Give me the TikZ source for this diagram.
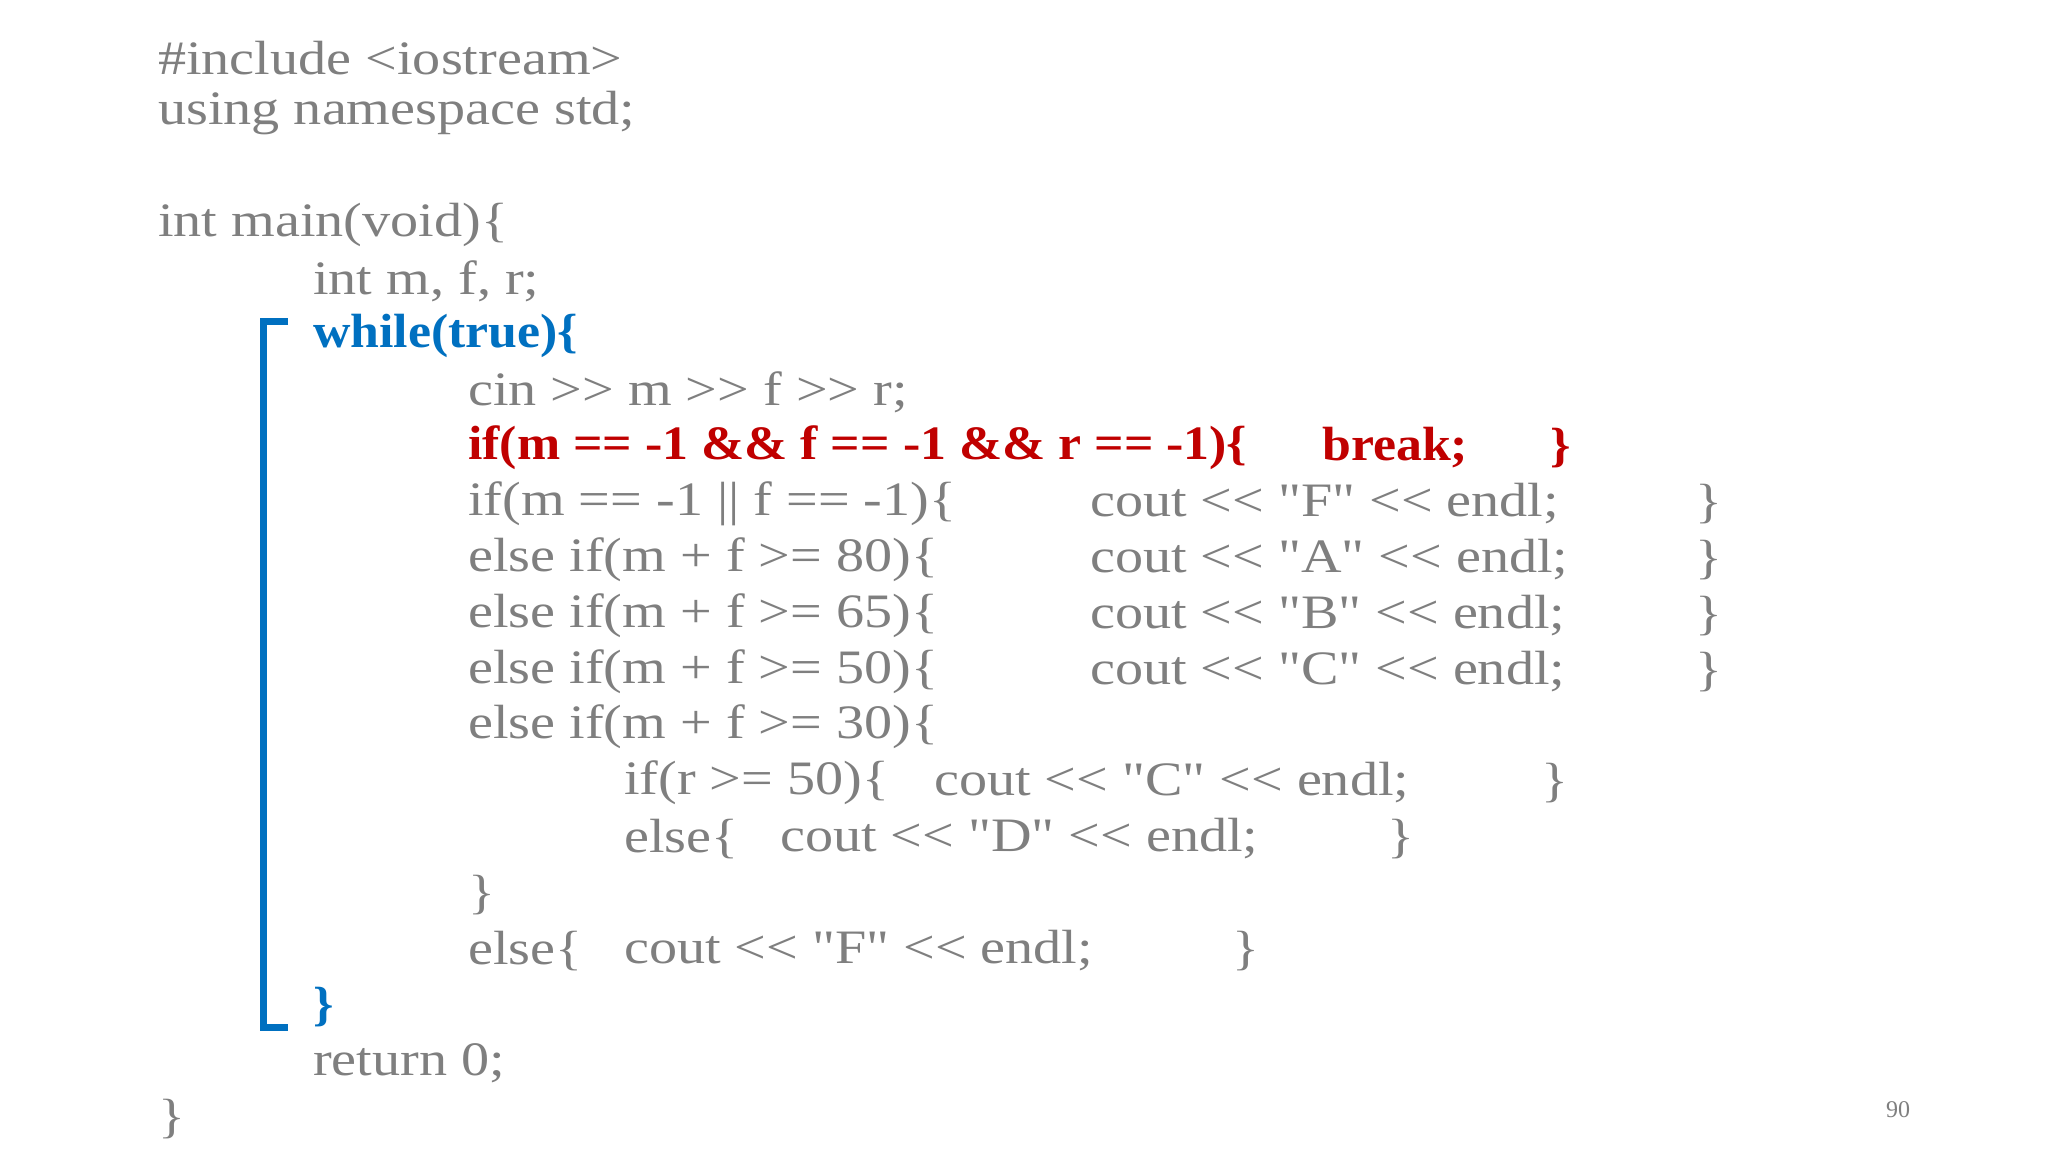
\documentclass[tikz,border=0pt]{standalone}
\usepackage{fontspec}
\newfontfamily\codefont[FakeStretch=1.17]{Liberation Serif}
\newfontfamily\redfont[FakeStretch=1.08]{Liberation Serif}
\newfontfamily\pagefont{Liberation Serif}
\definecolor{codegray}{HTML}{7F7F7F}
\definecolor{codeblue}{HTML}{0070C0}
\definecolor{codered}{HTML}{C00000}
\tikzset{code/.style={anchor=west,inner sep=0pt,text=codegray,font=\codefont\fontsize{48}{48}\selectfont},
 bl/.style={code,text=codeblue,font=\redfont\fontsize{48}{48}\selectfont\bfseries},
 rd/.style={code,text=codered,font=\redfont\fontsize{48}{48}\selectfont\bfseries}}
\begin{document}
\begin{tikzpicture}[x=1pt,y=-1pt]
\useasboundingbox[fill=white] (0,0) rectangle (2048,1152);
\node[code] (l1) at (158,58) {\#include <iostream>};
\node[code] (l2) at (158,113) {using namespace std;};
\node[code] (l3) at (158,225) {int main(void)\{};
\node[code] (l4) at (313,281) {int m, f, r;};
\node[bl] (l5) at (313,336) {while(true)\{};
\node[code] (l6) at (468,392) {cin >> m >> f >> r;};
\node[rd] (l7) at (468,448) {if(m == -1 \&\& f == -1 \&\& r == -1)\{};
\node[rd] (l7b) at (1322,448) {break;};
\node[rd] (l7c) at (1550,448) {\}};
\node[code] (l8) at (468,504) {if(m == -1 || f == -1)\{};
\node[code] (l8b) at (1090,504) {cout << "F" << endl;};
\node[code] (l8c) at (1695,504) {\}};
\node[code] (l9) at (468,560) {else if(m + f >= 80)\{};
\node[code] (l9b) at (1090,560) {cout << "A" << endl;};
\node[code] (l9c) at (1695,560) {\}};
\node[code] (l10) at (468,616) {else if(m + f >= 65)\{};
\node[code] (l10b) at (1090,616) {cout << "B" << endl;};
\node[code] (l10c) at (1695,616) {\}};
\node[code] (l11) at (468,672) {else if(m + f >= 50)\{};
\node[code] (l11b) at (1090,672) {cout << "C" << endl;};
\node[code] (l11c) at (1695,672) {\}};
\node[code] (l12) at (468,727) {else if(m + f >= 30)\{};
\node[code] (l13) at (624,783) {if(r >= 50)\{};
\node[code] (l13b) at (934,783) {cout << "C" << endl;};
\node[code] (l13c) at (1541,783) {\}};
\node[code] (l14) at (624,839) {else\{};
\node[code] (l14b) at (780,839) {cout << "D" << endl;};
\node[code] (l14c) at (1387,839) {\}};
\node[code] (l15) at (468,895) {\}};
\node[code] (l16) at (468,951) {else\{};
\node[code] (l16b) at (624,951) {cout << "F" << endl;};
\node[code] (l16c) at (1232,951) {\}};
\node[bl] (l17) at (313,1007) {\}};
\node[code] (l18) at (313,1063) {return 0;};
\node[code] (l19) at (158,1119) {\}};
\node[anchor=center,inner sep=0pt,text=codegray,font=\pagefont\fontsize{24}{24}\selectfont] (pg) at (1898,1110) {90};
\draw[codeblue,line width=7pt] (288,321) -- (263,321) -- (263,1027) -- (288,1027);
\end{tikzpicture}
\end{document}
